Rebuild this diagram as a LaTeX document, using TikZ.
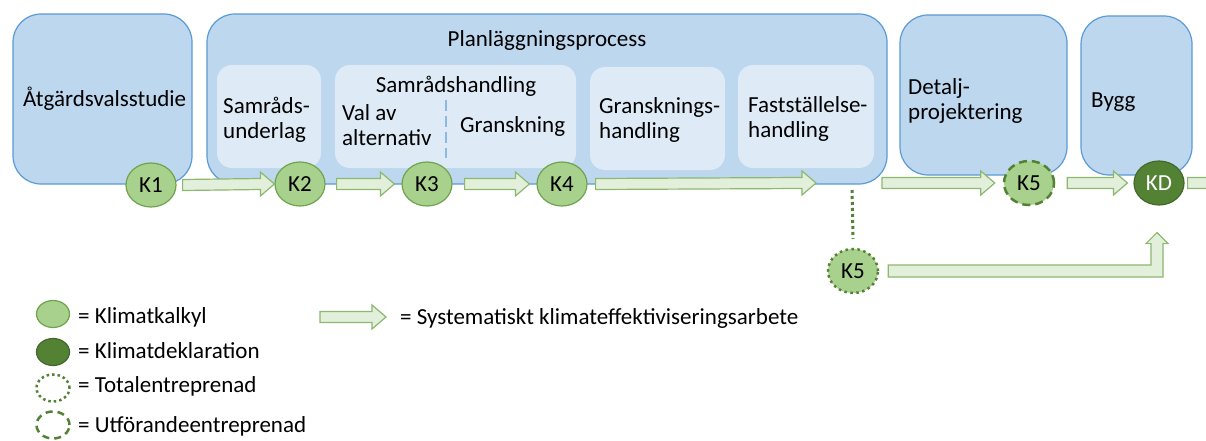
\documentclass[tikz,border=0pt]{standalone}
\usepackage{fontspec}
\setmainfont{Carlito}
\usepackage{tikz}
\usetikzlibrary{calc}
\usetikzlibrary{positioning}
\usetikzlibrary{shapes.geometric}

\definecolor{phaseblue}{HTML}{BDD7EE}
\definecolor{phaseline}{HTML}{5B9BD5}
\definecolor{subblue}{HTML}{DEEBF7}
\definecolor{kalkylgreen}{HTML}{A9D18E}
\definecolor{kalkylline}{HTML}{6FA34C}
\definecolor{deklgreen}{HTML}{548235}
\definecolor{deklline}{HTML}{42692A}
\definecolor{flowfill}{HTML}{E2EFDA}
\definecolor{flowline}{HTML}{8DB870}

% block arrow from #1 to #2 (horizontal)
\newcommand{\flowarrow}[2]{%
  \draw [flow] ($(#1)+(0,-5.5)$) -- ($(#2)+(-14,-5.5)$) -- ($(#2)+(-14,-12)$)
    -- (#2) -- ($(#2)+(-14,12)$) -- ($(#2)+(-14,5.5)$) -- ($(#1)+(0,5.5)$) -- cycle;}

\begin{document}
\begin{tikzpicture}
  [
    x=1pt,
    y=-1pt,
    every node/.style={
      font=\fontsize{23}{25}\selectfont,
      inner sep=0pt
    },
    phase/.style={
      fill=phaseblue,
      draw=phaseline,
      line width=1.2pt,
      rounded corners=28pt
    },
    sub/.style={
      fill=subblue,
      rounded corners=15pt
    },
    kbase/.style={
      ellipse,
      minimum width=50pt,
      minimum height=44pt,
      inner sep=0pt
    },
    kalkyl/.style={
      kbase,
      fill=kalkylgreen,
      draw=kalkylline,
      line width=1.2pt
    },
    dekl/.style={
      kbase,
      fill=deklgreen,
      draw=deklline,
      line width=1.2pt,
      text=white
    },
    total/.style={
      kalkyl,
      draw=deklgreen,
      line width=2.5pt,
      dash pattern=on 2.5pt off 3.5pt
    },
    utforande/.style={
      kalkyl,
      draw=deklgreen,
      line width=2.5pt,
      dash pattern=on 8pt off 5pt
    },
    legendk/.style={
      minimum width=33pt,
      minimum height=27pt
    },
    flow/.style={
      fill=flowfill,
      draw=flowline,
      line width=1.2pt,
      line join=miter
    },
    txt/.style={
      anchor=west,
      align=left
    }
  ]
    \clip (0,0) rectangle (1206,441);
    \fill [white] (0,0) rectangle (1206,441);
    % phases
    \draw [phase] (13,14) rectangle (192,184);
    \draw [phase] (207,14) rectangle (887,184);
    \draw [phase] (900,15) rectangle (1067,175);
    \draw [phase] (1081,16) rectangle (1192,175);
    \fill [sub] (217,65) rectangle (321,168);
    \fill [sub] (335,65) rectangle (576,168);
    \fill [sub] (590,67) rectangle (725,170);
    \fill [sub] (738,65) rectangle (874,168);
    \draw [phaseline!70, line width=2.5pt, dash pattern=on 11pt off 5pt] (446,100) -- (446,158);
    % texts
    \node [txt] (avs) at (23,99) {Åtgärdsvalsstudie};
    \node (plan) at (547,40) {Planläggningsprocess};
    \node [txt] (sru) at (223,120) {Samråds-\\underlag};
    \node (srh) at (456,86) {Samrådshandling};
    \node [txt] (val) at (342,125) {Val av\\alternativ};
    \node [txt] (gr) at (460,126) {Granskning};
    \node [txt] (grh) at (599,120) {Gransknings-\\handling};
    \node [txt] (fsh) at (748,119) {Fastställelse-\\handling};
    \node [txt] (dp) at (908,101) {Detalj-\\projektering};
    \node [txt] (bygg) at (1091,102) {Bygg};
    % checkpoints
    \node [kalkyl] (K1) at (151,185) {K1};
    \node [kalkyl] (K2) at (300,184) {K2};
    \node [kalkyl] (K3) at (427,184) {K3};
    \node [kalkyl] (K4) at (562,184) {K4};
    \node [utforande] (K5a) at (1029,183) {K5};
    \node [dekl] (KD) at (1159,183) {KD};
    \node [total] (K5b) at (853,271) {K5};
    % arrows
    \coordinate (a1) at ($(K1.east)+(6,0)$);
    \coordinate (a2) at ($(K2.east)+(11,0)$);
    \coordinate (b2) at ($(K3.west)+(-7,0)$);
    \coordinate (a3) at ($(K3.east)+(12,0)$);
    \coordinate (b3) at ($(K4.west)+(-7,0)$);
    \coordinate (a4) at ($(K4.east)+(8,0)$);
    \coordinate (b4) at (816,183);
    \coordinate (a5) at (882,183);
    \coordinate (b5) at ($(K5a.west)+(-8,0)$);
    \coordinate (a6) at ($(K5a.east)+(12,0)$);
    \coordinate (b6) at ($(KD.west)+(-6,0)$);
    \coordinate (a7) at ($(KD.east)+(3,0)$);
    \coordinate (b7) at (1222,183);
    \flowarrow{a1}{K2.west}
    \flowarrow{a2}{b2}
    \flowarrow{a3}{b3}
    \flowarrow{a4}{b4}
    \flowarrow{a5}{b5}
    \flowarrow{a6}{b6}
    \flowarrow{a7}{b7}
    % totalentreprenad path
    \draw [deklgreen, line width=3pt, dash pattern=on 3pt off 3pt] (852,190) -- ($(K5b.north)+(0,-9)$);
    \coordinate (ls) at ($(K5b.east)+(9,0)$);
    \coordinate (lt) at ($(KD.south)+(-2,27)$);
    \draw [flow] ($(ls)+(0,-6)$) -| ($(lt)+(-6,11)$) -- ($(lt)+(-11,11)$) -- (lt)
      -- ($(lt)+(11,11)$) -- ($(lt)+(6,11)$) |- ($(ls)+(0,6)$) -- cycle;
    % legend
    \node [kalkyl, legendk] (l1) at (53,314) {};
    \node [dekl, legendk] (l2) at (53,352) {};
    \node [total, legendk, fill=none, dash pattern=on 2.5pt off 3pt] (l3) at (53,388) {};
    \node [utforande, legendk, fill=none, dash pattern=on 7pt off 5pt] (l4) at (53,425) {};
    \node [anchor=base west] (t1) at (78,323) {= Klimatkalkyl};
    \node [anchor=base west] (t2) at (78,358) {= Klimatdeklaration};
    \node [anchor=base west] (t3) at (78,392) {= Totalentreprenad};
    \node [anchor=base west] (t4) at (78,432) {= Utförandeentreprenad};
    \coordinate (ga) at (320,317);
    \coordinate (gb) at (386,317);
    \flowarrow{ga}{gb}
    \node [anchor=base west] (t5) at (400,324) {= Systematiskt klimateffektiviseringsarbete};
  \end{tikzpicture}
\end{document}
